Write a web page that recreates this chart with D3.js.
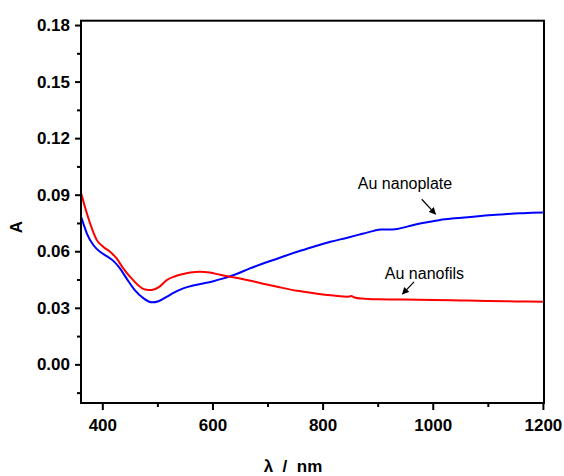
<!DOCTYPE html>
<html>
<head>
<meta charset="utf-8">
<script src="https://cdn.jsdelivr.net/npm/d3@7"></script>
<style>
  html, body { margin: 0; padding: 0; background: #fff; }
  svg { display: block; }
</style>
</head>
<body>
<svg id="chart" width="564" height="476"></svg>
<script>
// ---- data ----
const redWavelength = [362, 367, 372, 381, 390, 402, 414, 426, 438, 453, 465, 478, 490, 502, 517, 530, 545, 560, 577, 595, 614, 632, 650, 670, 692, 720, 754, 790, 820, 845, 852, 858, 870, 900, 941, 1000, 1050, 1100, 1150, 1200];
const redAbs = [0.0903, 0.0850, 0.0800, 0.0721, 0.0659, 0.0623, 0.0597, 0.0562, 0.0509, 0.0456, 0.0420, 0.0397, 0.0394, 0.0408, 0.0447, 0.0465, 0.0478, 0.0487, 0.0491, 0.0487, 0.0475, 0.0465, 0.0456, 0.0443, 0.0428, 0.0410, 0.0390, 0.0375, 0.0365, 0.0358, 0.0362, 0.0355, 0.0349, 0.0345, 0.0344, 0.0342, 0.0339, 0.0336, 0.0334, 0.0332];

const blueWavelength = [362, 367, 372, 384, 396, 408, 420, 432, 444, 459, 475, 490, 502, 515, 530, 547, 565, 583, 600, 620, 640, 668, 692, 720, 754, 785, 814, 845, 874, 893, 905, 920, 935, 955, 977, 995, 1013, 1040, 1068, 1095, 1122, 1158, 1180, 1200];
const blueAbs = [0.0779, 0.0735, 0.0694, 0.0632, 0.0597, 0.0574, 0.0549, 0.0509, 0.0456, 0.0394, 0.0350, 0.0329, 0.0335, 0.0355, 0.0380, 0.0403, 0.0418, 0.0429, 0.0440, 0.0456, 0.0475, 0.0509, 0.0535, 0.0563, 0.0597, 0.0625, 0.0650, 0.0672, 0.0694, 0.0708, 0.0716, 0.0715, 0.0718, 0.0732, 0.0747, 0.0756, 0.0766, 0.0775, 0.0782, 0.0789, 0.0795, 0.0802, 0.0804, 0.0806];

const xMajorTicks = [400, 600, 800, 1000, 1200];
const xMinorTicks = [500, 700, 900, 1100];
const yMajorTicks = [0.00, 0.03, 0.06, 0.09, 0.12, 0.15, 0.18];
const yMinorTicks = [-0.015, 0.015, 0.045, 0.075, 0.105, 0.135, 0.165];

const seriesNames = ["Au nanofils", "Au nanoplate"];
const seriesColors = ["#ff0000", "#0000ff"];
// annotation: [label x, label baseline y, arrow from x,y, arrow to x,y] in data units
const annotPlate = [864, 0.0929, 980, 0.0876, 1005, 0.0797];
const annotFils = [913, 0.0452, 966, 0.0438, 945, 0.0373];

// ---- layout ----
const svg = d3.select("#chart");
const L = 81, R = 544, T = 20.7, B = 403;
const x = d3.scaleLinear().domain([361.3, 1202]).range([L, R]);
const y = d3.scaleLinear().domain([-0.0205, 0.1823]).range([B, T]);

const tickFont = "'Liberation Sans', Arial, sans-serif";

// data lines
const line = d3.line().x(d => x(d[0])).y(d => y(d[1])).curve(d3.curveMonotoneX);
const redData = redWavelength.map((w, i) => [w, redAbs[i]]);
const blueData = blueWavelength.map((w, i) => [w, blueAbs[i]]);

const plot = svg.append("g");
plot.append("path").datum(blueData).attr("d", line)
  .attr("fill", "none").attr("stroke", seriesColors[1]).attr("stroke-width", 2);
plot.append("path").datum(redData).attr("d", line)
  .attr("fill", "none").attr("stroke", seriesColors[0]).attr("stroke-width", 2);

// axes
function styleAxis(g) {
  g.select(".domain").remove();
  g.selectAll(".tick line").attr("stroke", "#000").attr("stroke-width", 2);
  g.selectAll(".tick text").attr("font-family", tickFont).attr("font-size", 17)
    .attr("font-weight", "bold").attr("fill", "#000");
}
svg.append("g").attr("transform", `translate(0,${B})`)
  .call(d3.axisBottom(x).tickValues(xMajorTicks).tickSize(7).tickPadding(9).tickFormat(d3.format("d")))
  .call(styleAxis);
svg.append("g").attr("transform", `translate(0,${B})`)
  .call(d3.axisBottom(x).tickValues(xMinorTicks).tickSize(4).tickFormat(""))
  .call(styleAxis);
svg.append("g").attr("transform", `translate(${L},0)`)
  .call(d3.axisLeft(y).tickValues(yMajorTicks).tickSize(6).tickPadding(5).tickFormat(d3.format(".2f")))
  .call(styleAxis);
svg.append("g").attr("transform", `translate(${L},0)`)
  .call(d3.axisLeft(y).tickValues(yMinorTicks).tickSize(4).tickFormat(""))
  .call(styleAxis);

// frame
svg.append("rect").attr("x", L).attr("y", T).attr("width", R - L).attr("height", B - T)
  .attr("fill", "none").attr("stroke", "#000").attr("stroke-width", 2);

// axis titles
svg.append("text").attr("x", 293).attr("y", 472).attr("text-anchor", "middle")
  .attr("font-family", tickFont).attr("font-size", 17).attr("font-weight", "bold")
  .style("white-space", "pre").text("λ  /  nm");
svg.append("text").attr("transform", "translate(22,227) rotate(-90)").attr("text-anchor", "middle")
  .attr("font-family", tickFont).attr("font-size", 17).attr("font-weight", "bold").text("A");

// annotations
svg.append("defs").append("marker").attr("id", "arr").attr("viewBox", "0 0 10 10")
  .attr("refX", 9).attr("refY", 5).attr("markerWidth", 7).attr("markerHeight", 7)
  .attr("markerUnits", "userSpaceOnUse").attr("orient", "auto")
  .append("path").attr("d", "M0,0 L10,5 L0,10 Z").attr("fill", "#000");

[[annotPlate, seriesNames[1]], [annotFils, seriesNames[0]]].forEach(([a, name]) => {
  svg.append("text").attr("x", x(a[0])).attr("y", y(a[1]))
    .attr("font-family", tickFont).attr("font-size", 16).attr("fill", "#000")
    .text(name);
  svg.append("line").attr("x1", x(a[2])).attr("y1", y(a[3])).attr("x2", x(a[4])).attr("y2", y(a[5]))
    .attr("stroke", "#000").attr("stroke-width", 1.2).attr("marker-end", "url(#arr)");
});
</script>
</body>
</html>
